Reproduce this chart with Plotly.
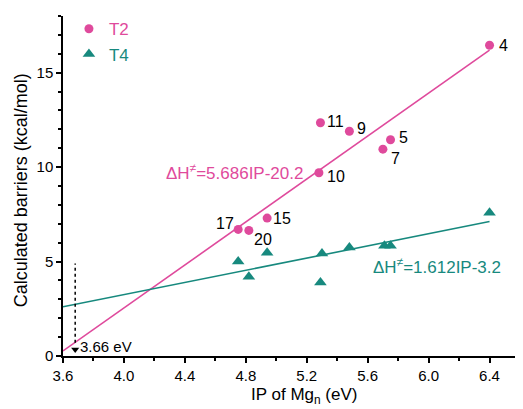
import plotly.graph_objects as go

PINK = "#df4a9c"
TEAL = "#17897e"
FONT = "Liberation Sans, Arial"

# T2 data (IP of Mg_n, barrier) with cluster labels
t2_ip = [6.40, 5.29, 5.48, 5.75, 5.70, 5.28, 4.94, 4.75, 4.82]
t2_barrier = [16.45, 12.35, 11.90, 11.45, 10.95, 9.70, 7.30, 6.70, 6.65]
t2_labels = ["4", "11", "9", "5", "7", "10", "15", "17", "20"]

# T4 data
t4_ip = [4.75, 4.82, 4.94, 5.30, 5.29, 5.48, 5.71, 5.75, 6.40]
t4_barrier = [5.00, 4.20, 5.47, 5.42, 3.89, 5.74, 5.84, 5.84, 7.58]

# Linear fits
fit_x = [3.6, 6.4]
t2_slope, t2_icpt = 5.686, -20.2
t4_slope, t4_icpt = 1.612, -3.2

x_ticks = [3.6, 4.0, 4.4, 4.8, 5.2, 5.6, 6.0, 6.4]
y_ticks = [0, 5, 10, 15]

threshold_ip = 3.68
threshold_label = "3.66 eV"

# label placement (style): anchor, x pixel shift, y pixel shift
label_style = [("left", 7, 0), ("left", 5, 1), ("left", 6, 3), ("left", 6, 2),
               ("left", 6, -9), ("left", 6, -4), ("left", 4, 0), ("right", -2, 6),
               ("left", 3, -9)]

fig = go.Figure()

fig.add_trace(go.Scatter(
    x=fit_x, y=[t2_slope * v + t2_icpt for v in fit_x], mode="lines",
    line=dict(color=PINK, width=1.6), showlegend=False, hoverinfo="skip"))
fig.add_trace(go.Scatter(
    x=fit_x, y=[t4_slope * v + t4_icpt for v in fit_x], mode="lines",
    line=dict(color=TEAL, width=1.6), showlegend=False, hoverinfo="skip"))

# threshold dotted line and arrow
fig.add_trace(go.Scatter(
    x=[threshold_ip, threshold_ip], y=[0.7, 4.9], mode="lines",
    line=dict(color="black", width=1.5, dash="dot"), showlegend=False, hoverinfo="skip"))
fig.add_trace(go.Scatter(
    x=[threshold_ip], y=[0.35], mode="markers",
    marker=dict(symbol="triangle-down", size=7, color="black"),
    showlegend=False, hoverinfo="skip"))

fig.add_trace(go.Scatter(
    x=t2_ip, y=t2_barrier, mode="markers",
    marker=dict(symbol="circle", size=9, color=PINK),
    name=f'<span style="color:{PINK}">T2</span>'))
fig.add_trace(go.Scatter(
    x=t4_ip, y=t4_barrier, mode="markers",
    marker=dict(symbol="triangle-up", size=11, color=TEAL),
    name=f'<span style="color:{TEAL}">T4</span>'))

for xv, yv, lab, (anc, dx, dy) in zip(t2_ip, t2_barrier, t2_labels, label_style):
    fig.add_annotation(x=xv, y=yv, xref="x", yref="y", xanchor=anc, yanchor="middle",
                       xshift=dx, yshift=dy, text=lab, showarrow=False,
                       font=dict(family=FONT, size=16, color="black"))

fig.add_annotation(x=5.19, y=9.74, xref="x", yref="y", xanchor="right", yanchor="middle",
                   text="ΔH<sup>≠</sup>=5.686IP-20.2", showarrow=False,
                   font=dict(family=FONT, size=17, color=PINK))
fig.add_annotation(x=5.62, y=4.79, xref="x", yref="y", xanchor="left", yanchor="middle",
                   text="ΔH<sup>≠</sup>=1.612IP-3.2", showarrow=False,
                   font=dict(family=FONT, size=17, color=TEAL))
fig.add_annotation(x=3.7, y=0.5, xref="x", yref="y", xanchor="left", yanchor="middle",
                   text=threshold_label, showarrow=False,
                   font=dict(family=FONT, size=15, color="black"))

# axis titles
fig.add_annotation(x=-0.09, y=0.487, xref="paper", yref="paper", xanchor="center", yanchor="middle",
                   text="Calculated barriers (kcal/mol)", textangle=-90, showarrow=False,
                   font=dict(family=FONT, size=18, color="black"))
fig.add_annotation(x=0.527, y=-0.117, xref="paper", yref="paper", xanchor="center", yanchor="middle",
                   text="IP of Mg<sub>n</sub> (eV)", showarrow=False,
                   font=dict(family=FONT, size=17, color="black"))

# page body has an 8px default margin, so the figure is sized to fit inside the window
fig.update_layout(
    width=515, height=401,
    margin=dict(l=55, r=3, t=5, b=53),
    paper_bgcolor="white", plot_bgcolor="white",
    font=dict(family=FONT, size=14, color="black"),
    legend=dict(x=0.013, y=1.014, xanchor="left", yanchor="top",
                bgcolor="rgba(0,0,0,0)", font=dict(size=17),
                tracegroupgap=0),
    xaxis=dict(range=[3.6, 6.6], tickvals=x_ticks, ticktext=[f"{v:.1f}" for v in x_ticks],
               automargin=False,
               showgrid=False, zeroline=False, showline=True, linecolor="black", linewidth=1.5,
               ticks="outside", ticklen=5, tickwidth=1.5, tickcolor="black",
               minor=dict(dtick=0.2, tick0=3.6, ticks="outside", ticklen=3, tickcolor="black", tickwidth=1.5),
               tickfont=dict(size=15)),
    yaxis=dict(range=[0, 18], tickvals=y_ticks, automargin=False,
               showgrid=False, zeroline=False, showline=True, linecolor="black", linewidth=1.5,
               ticks="outside", ticklen=5, tickwidth=1.5, tickcolor="black",
               minor=dict(dtick=1, tick0=0, ticks="outside", ticklen=3, tickcolor="black", tickwidth=1.5),
               tickfont=dict(size=15)),
)

fig.write_html("out.html")
